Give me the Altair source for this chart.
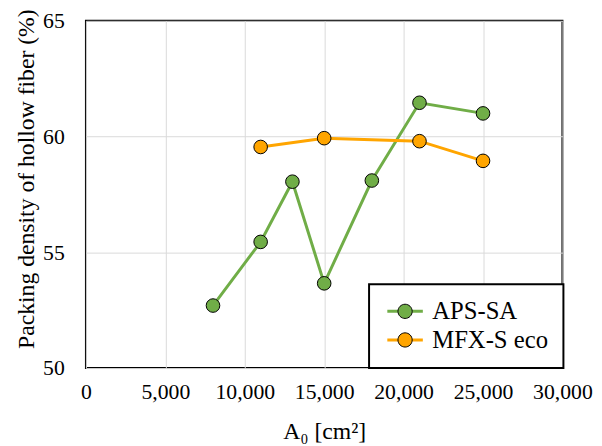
import altair as alt
import pandas as pd

series_names = ["APS-SA", "MFX-S eco"]
aps_x = [8000, 11000, 13000, 15000, 18000, 21000, 25000]
aps_y = [52.7, 55.45, 58.05, 53.66, 58.1, 61.46, 61.0]
mfx_x = [11000, 15000, 21000, 25000]
mfx_y = [59.55, 59.93, 59.8, 58.95]
colors = ["#70AD47", "#FFA500"]
x_ticks = [0, 5000, 10000, 15000, 20000, 25000, 30000]
y_ticks = [50, 55, 60, 65]

rows = []
for i, (x, y) in enumerate(zip(aps_x, aps_y)):
    rows.append({"series": series_names[0], "x": x, "y": y, "ord": i})
for i, (x, y) in enumerate(zip(mfx_x, mfx_y)):
    rows.append({"series": series_names[1], "x": x, "y": y, "ord": i})
df = pd.DataFrame(rows)

FONT = "Liberation Serif"
scale = alt.Scale(domain=series_names, range=colors)
# marker-only legend needs a distinct domain so Vega-Lite does not merge it
marker_names = [s + " " for s in series_names]
scale_m = alt.Scale(domain=marker_names, range=colors)

xenc = alt.X("x:Q", scale=alt.Scale(domain=[0, 30000], nice=False),
             axis=alt.Axis(values=x_ticks, format=",d", title="A₀ [cm²]",
                           grid=True, ticks=False, domain=False, labelOverlap=False,
                           labelFlush=False, labelPadding=14, titlePadding=17))
yenc = alt.Y("y:Q", scale=alt.Scale(domain=[50, 65], nice=False, zero=False),
             axis=alt.Axis(values=y_ticks, title="Packing density of hollow fiber (%)",
                           grid=True, ticks=False, domain=False,
                           labelPadding=22, titlePadding=4, titleY=160))

line_path = "M-1,0L3,0"
circ_path = "M0.2,0A0.8,0.8 0 1,1 1.8,0A0.8,0.8 0 1,1 0.2,0Z"

LX, LY = 287, 267

lines = alt.Chart(df).mark_line(strokeWidth=3).encode(
    x=xenc, y=yenc, order="ord:Q",
    color=alt.Color("series:N", scale=scale, title=None,
                    legend=alt.Legend(orient="none", legendX=LX, legendY=LY,
                                      symbolType=line_path, symbolSize=324,
                                      symbolStrokeWidth=3, labelOffset=24,
                                      labelFont=FONT, labelFontSize=25,
                                      labelColor="black",
                                      strokeColor="black", fillColor="white",
                                      padding=15, rowPadding=3)),
)
points = alt.Chart(df).transform_calculate(
    mseries="datum.series + ' '"
).mark_point(filled=True, size=190, stroke="black", strokeWidth=1, opacity=1).encode(
    x="x:Q", y="y:Q",
    fill=alt.Fill("mseries:N", scale=scale_m, title=None,
                  legend=alt.Legend(orient="none", legendX=LX, legendY=LY,
                                    symbolType=circ_path, symbolSize=324,
                                    symbolStrokeWidth=1, symbolStrokeColor="black",
                                    symbolOpacity=1, labelOffset=24,
                                    labelFont=FONT, labelFontSize=25,
                                    labelOpacity=0, padding=15, rowPadding=3)),
)

chart = alt.layer(lines, points).properties(
    width=483, height=352,
    autosize=alt.AutoSizeParams(type="none"),
    padding={"left": 79, "top": 10, "right": 32, "bottom": 74},
).configure(font=FONT).configure_view(stroke="black", strokeWidth=2).configure_axis(
    labelFont=FONT, titleFont=FONT, labelFontSize=22, titleFontSize=24,
    labelColor="black", titleColor="black", titleFontWeight="normal",
    gridColor="#d9d9d9", gridWidth=1,
).configure_legend(
    strokeWidth=2,
)

chart.save("out.html", embed_options={"renderer": "svg", "actions": False})
